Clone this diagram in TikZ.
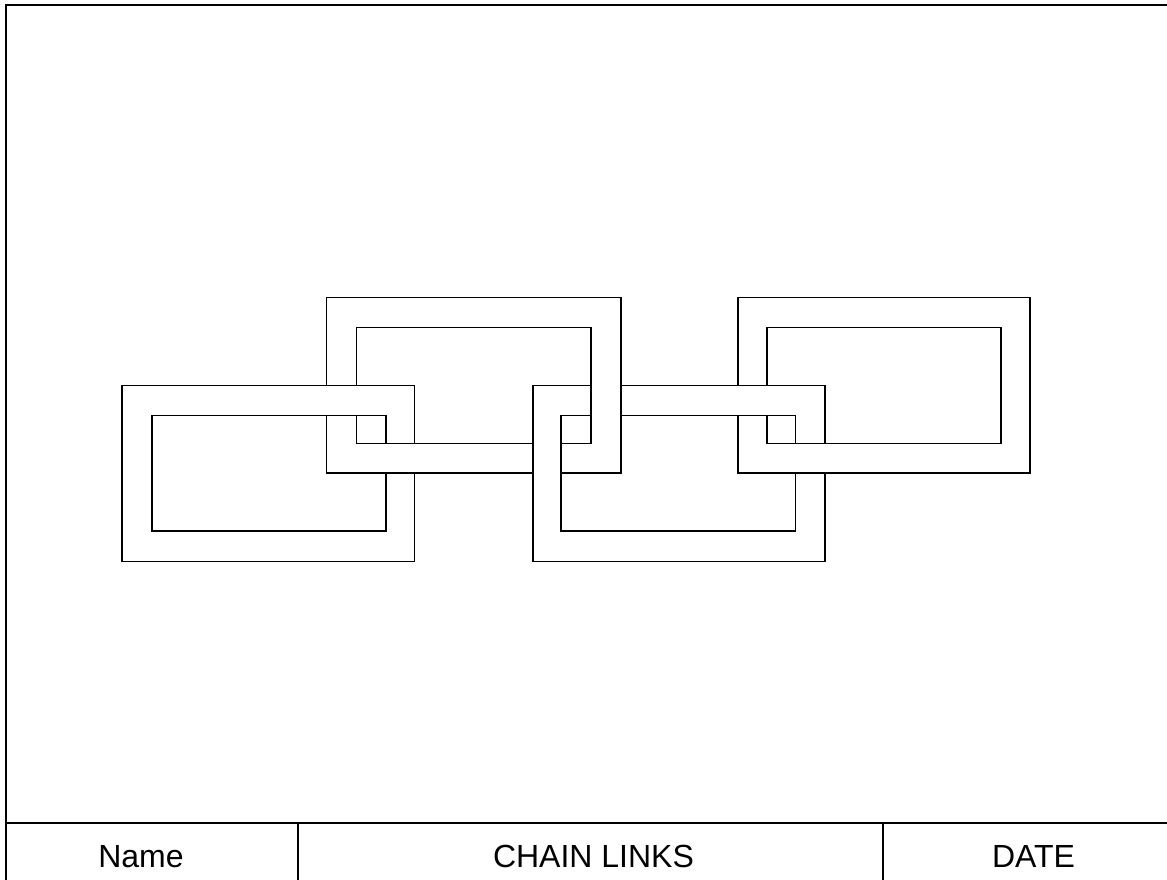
\documentclass[tikz,border=0pt]{standalone}
\usepackage{fontspec}
\setmainfont{Liberation Sans}
\begin{document}
\begin{tikzpicture}[x=1pt,y=-1pt,
  linkline/.style={line width=1.8pt, black},
  linkframe/.style={fill=white, even odd rule, draw=black, line width=1.8pt},
  patchfill/.style={fill=white, draw=none},
  frameline/.style={line width=2pt, black},
  cellline/.style={line width=1.8pt, black},
  celltext/.style={anchor=base, inner sep=0pt, font=\fontsize{32}{36}\selectfont}]
\useasboundingbox (0,0) rectangle (1167,880);
\fill[white] (0,0) rectangle (1167,880);
% ---- outer frame and title block
\coordinate (tl) at (5.5,5);
\coordinate (tr) at (1168,5);
\coordinate (bl) at (5.5,881);
\draw[frameline] (bl) -- (tl) -- (tr);
\coordinate (hl) at (5.5,823.3);
\coordinate (hr) at (1168,823.3);
\draw[frameline] (hl) -- (hr);
\coordinate (v1t) at (298,823.3);
\coordinate (v1b) at (298,881);
\coordinate (v2t) at (883,823.3);
\coordinate (v2b) at (883,881);
\draw[cellline] (v1t) -- (v1b);
\draw[cellline] (v2t) -- (v2b);
\node[celltext] (name) at (141,867) {Name};
\node[celltext] (title) at (593.5,867) {CHAIN LINKS};
\node[celltext] (date) at (1033.5,867) {DATE};
% ---- links drawn underneath first: B and D
\path[linkframe] (326.5,297.5) rectangle (621,473) (356.5,327.5) rectangle (591,443.5);
\path[linkframe] (738,297.5) rectangle (1030,473) (767,327.5) rectangle (1001,443.5);
% ---- links on top: A and C
\path[linkframe] (122,385.5) rectangle (414.5,561.5) (152,415.5) rectangle (386,531);
\path[linkframe] (533,385.5) rectangle (825,561.5) (561,415.5) rectangle (795.5,531);
% ---- patches where the lower link passes over
% B bottom bar over A right side
\fill[patchfill] (375,443.5) rectangle (425,473);
\draw[linkline] (375,443.5) -- (425,443.5) (375,473) -- (425,473);
% B right side over C top bar
\fill[patchfill] (591,375) rectangle (621,425);
\draw[linkline] (591,375) -- (591,425) (621,375) -- (621,425);
% D bottom bar over C right side
\fill[patchfill] (785,443.5) rectangle (835,473);
\draw[linkline] (785,443.5) -- (835,443.5) (785,473) -- (835,473);
\end{tikzpicture}
\end{document}
